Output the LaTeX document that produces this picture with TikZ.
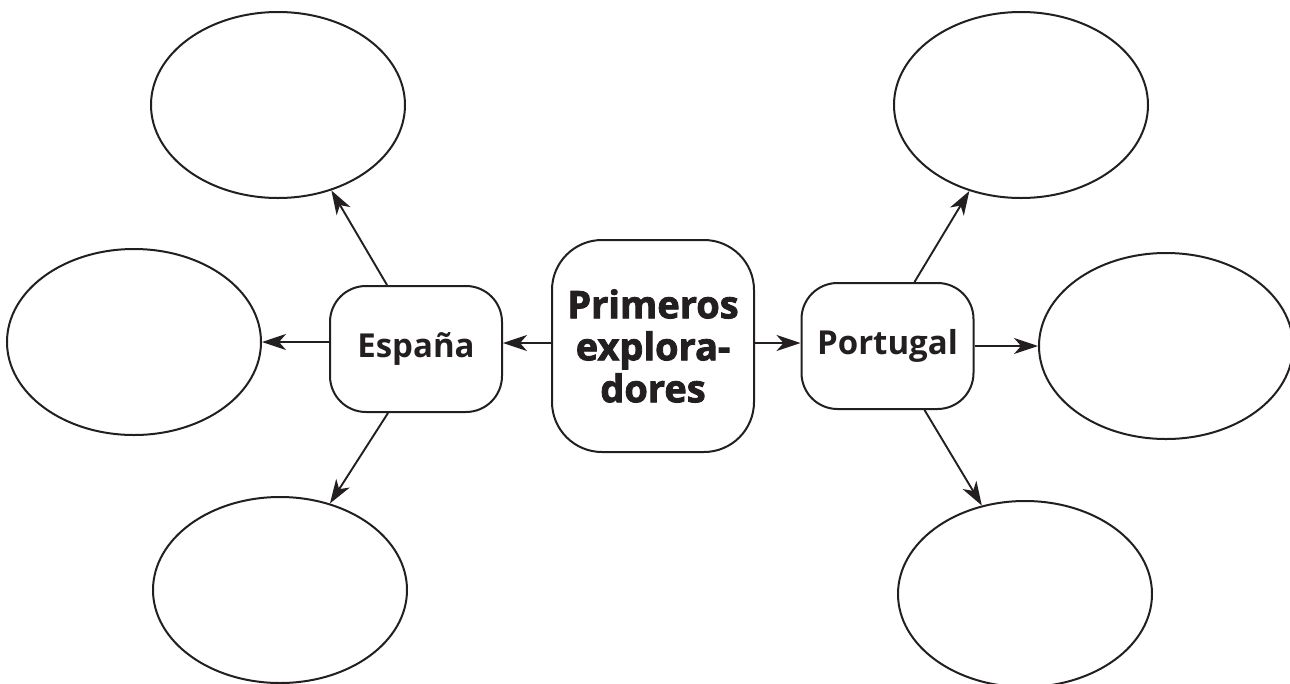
\documentclass[tikz,border=0pt]{standalone}
\usepackage{fontspec}
\setmainfont{Open Sans}
\newfontfamily\heavysans[FakeBold=2.2]{Open Sans Bold}
\usetikzlibrary{shapes.geometric,arrows.meta,calc}
\definecolor{ink}{HTML}{231F20}
\begin{document}
\begin{tikzpicture}[x=1pt,y=-1pt,
  oval/.style={draw=ink, line width=2pt, ellipse, minimum width=254pt, minimum height=186pt, inner sep=0pt},
  sbox/.style={draw=ink, line width=2pt, rounded corners=36pt, minimum width=172pt, minimum height=126pt, inner sep=0pt, font=\fontsize{33}{40}\selectfont\bfseries, text=ink},
  cbox/.style={draw=ink, line width=2pt, rounded corners=50pt, minimum width=202pt, minimum height=212pt, inner sep=0pt, align=center, font=\fontsize{38}{42}\selectfont\heavysans, text=ink},
  arr/.style={draw=ink, line width=1.9pt, -{Stealth[length=24pt,width=16pt,inset=7pt]}}
]
\useasboundingbox (0,0) rectangle (1290,683);
\node[oval] (e1) at (278,105) {};
\node[oval] (e2) at (134,342) {};
\node[oval] (e3) at (280,590) {};
\node[oval] (e4) at (1021,105) {};
\node[oval] (e5) at (1166,346) {};
\node[oval] (e6) at (1025,594) {};
\node[sbox] (es) at (416,349) {España};
\node[cbox] (c) at (653,346) {Primeros\\explora-\\dores};
\node[sbox] (pt) at (887.5,346) {Portugal};
\coordinate (cw) at ($(c.west)+(0,-3)$);
\coordinate (ce) at ($(c.east)+(0,-3)$);
\draw[arr] (cw) -- (cw -| es.east);
\draw[arr] (ce) -- (ce -| pt.west);
\draw[arr] (es.west |- e2.east) -- (e2.east);
\draw[arr] ($(es.north)+(-29,0)$) -- (e1.302);
\draw[arr] ($(es.south)+(-28,0)$) -- (e3.60);
\draw[arr] ($(pt.north)+(27,0)$) -- (e4.239);
\draw[arr] (pt.east) -- (e5.west);
\draw[arr] ($(pt.south)+(37,0)$) -- (e6.116);
\end{tikzpicture}
\end{document}
